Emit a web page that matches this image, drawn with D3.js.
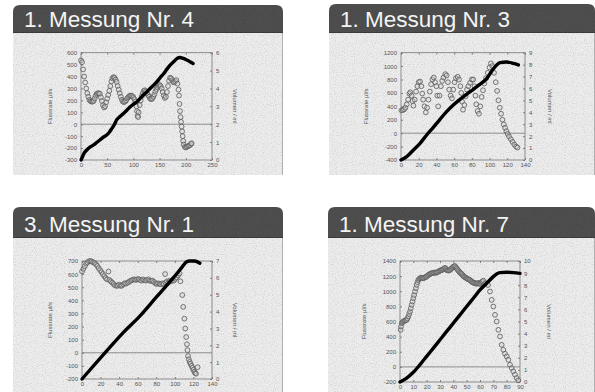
<!DOCTYPE html>
<html><head><meta charset="utf-8">
<script src="https://cdn.jsdelivr.net/npm/d3@7"></script>
<style>
html,body{margin:0;padding:0;background:#fff;}
svg{display:block;}
text{font-family:"Liberation Sans",Arial,sans-serif;}
</style></head>
<body>
<svg id="c" width="595" height="392"></svg>
<script>
// ---------- data ----------
const titles = ["1. Messung Nr. 4", "1. Messung Nr. 3", "3. Messung Nr. 1", "1. Messung Nr. 7"];
const flowLabel = "Flussrate µl/s";
const volLabel = "Volumen / ml";

// x tick values (time, s)
const xTicks1 = [0, 50, 100, 150, 200, 250];
const xTicks2 = [0, 20, 40, 60, 80, 100, 120, 140];
const xTicks3 = [0, 20, 40, 60, 80, 100, 120, 140];
const xTicks4 = [0, 10, 20, 30, 40, 50, 60, 70, 80, 90];
// left (flow) tick values
const yTicks1 = [-300, -200, -100, 0, 100, 200, 300, 400, 500, 600];
const yTicks2 = [-400, -200, 0, 200, 400, 600, 800, 1000, 1200];
const yTicks3 = [-200, -100, 0, 100, 200, 300, 400, 500, 600, 700];
const yTicks4 = [-200, 0, 200, 400, 600, 800, 1000, 1200, 1400];
// right (volume) tick values
const vTicks1 = [0, 1, 2, 3, 4, 5, 6];
const vTicks2 = [0, 1, 2, 3, 4, 5, 6, 7, 8, 9];
const vTicks3 = [0, 1, 2, 3, 4, 5, 6, 7];
const vTicks4 = [0, 1, 2, 3, 4, 5, 6, 7, 8, 9, 10];

// flow rate samples [time s, µl/s]
const flow1 = [[0,535],[2,520],[4,460],[6,400],[8,350],[10,300],[12,260],[14,230],[16,205],[18,195],[20,190],[22,190],[24,195],[26,215],[28,240],[30,255],[32,260],[34,260],[36,255],[38,225],[40,195],[42,160],[44,140],[46,150],[48,185],[50,215],[52,245],[54,280],[56,320],[58,360],[60,385],[62,395],[64,390],[66,375],[68,355],[70,320],[72,290],[74,260],[76,230],[78,205],[80,190],[82,185],[84,190],[86,200],[88,215],[90,225],[92,235],[94,240],[96,240],[98,235],[100,225],[102,210],[104,190],[106,150],[107,110],[108,70],[109,60],[110,100],[112,160],[114,200],[116,235],[118,260],[120,280],[122,285],[124,275],[126,260],[128,245],[130,230],[132,215],[134,210],[136,215],[138,230],[140,250],[142,275],[144,295],[146,310],[148,320],[150,330],[152,320],[154,300],[156,270],[158,240],[160,220],[162,230],[164,270],[166,320],[168,365],[170,390],[172,385],[174,370],[176,355],[178,350],[180,360],[182,370],[184,340],[186,290],[187,240],[188,170],[189,110],[190,60],[191,20],[192,-20],[193,-60],[194,-100],[195,-140],[196,-170],[198,-190],[200,-195],[202,-190],[204,-185],[206,-180],[208,-175],[210,-165],[211,-160]];
const flow2 = [[0.5,340],[2,345],[3.5,355],[5,380],[6.5,430],[8,500],[9.5,590],[10.5,610],[12,560],[13,480],[14,410],[15.5,500],[17,620],[18.5,700],[20,760],[21.5,770],[23,700],[24,590],[25,500],[26.5,400],[28,310],[29.5,380],[31,500],[32.5,620],[34,730],[35.5,800],[37,830],[38.5,760],[40,700],[41,560],[42,400],[43.5,560],[45,700],[46.5,780],[48,830],[50,880],[51.5,860],[53,760],[54.5,650],[56,560],[57.5,520],[59,650],[60.5,760],[62,820],[64,840],[65.5,800],[67,700],[68,600],[69,470],[70,350],[71.5,420],[73,550],[74.5,650],[76,700],[78,750],[80,800],[81.5,800],[83,700],[84,560],[85,430],[86.5,330],[88,290],[89.5,400],[91,540],[92.5,640],[94,740],[96,820],[98,900],[100,980],[101.5,1040],[103,1000],[105,900],[107,760],[108.5,630],[110,490],[111.5,380],[113,290],[114.5,200],[116,130],[117.5,80],[119,30],[120.5,-10],[122,-50],[124,-90],[126,-130],[128,-170],[130,-200],[131.5,-215]];
const flow3 = [[0,620],[1.5,640],[3,660],[4.5,680],[6,690],[7.5,698],[9,700],[10.5,697],[12,690],[13.5,685],[15,675],[16.5,662],[18,645],[19.5,630],[21,615],[22.5,600],[24,585],[25.5,570],[27,560],[28.5,620],[29.5,555],[31,545],[32.5,535],[34,525],[35.5,515],[37,510],[38.5,512],[40,520],[41.5,510],[43,512],[44.5,522],[46,530],[47.5,527],[49,535],[50.5,540],[52,548],[53.5,553],[55,558],[56.5,560],[58,555],[59.5,560],[61,563],[62.5,555],[64,550],[65.5,560],[67,555],[68.5,550],[70,555],[71.5,560],[73,550],[74.5,548],[76,550],[77.5,540],[79,530],[80.5,525],[82,530],[83.5,525],[85,522],[86.5,530],[88,525],[89.5,600],[90,535],[91.5,545],[93,535],[94.5,550],[96,545],[97.5,555],[99,550],[100.5,565],[102,575],[103.5,590],[105,605],[106,545],[108,440],[109,350],[110.3,260],[111.2,185],[112.2,120],[113,65],[113.6,20],[114.2,-25],[115,-50],[116,-70],[117,-85],[118,-100],[119,-115],[120,-130],[121,-145],[122,-155],[122.8,-160],[124.5,-110]];
const flow4 = [[0.5,490],[0.75,534],[1.25,578],[2,590],[2.5,600],[3.25,608],[3.75,613],[4.5,618],[5,622],[5.6,640],[6.25,666],[6.9,700],[7.5,732],[8.1,775],[8.75,820],[9.4,865],[10,908],[10.6,950],[11.25,996],[11.9,1040],[12.5,1084],[13.1,1120],[13.75,1149],[14.4,1162],[15,1171],[15.6,1176],[16.25,1180],[16.9,1175],[17.5,1171],[18.1,1178],[18.75,1185],[19.4,1190],[20,1193],[20.6,1205],[21.25,1215],[21.9,1222],[22.5,1229],[23.1,1233],[23.75,1237],[24.4,1242],[25,1246],[25.6,1246],[26.25,1246],[26.9,1246],[27.5,1246],[28.1,1252],[28.75,1259],[29.4,1266],[30,1273],[30.6,1277],[31.25,1281],[31.9,1285],[32.5,1290],[33.1,1300],[33.75,1310],[34.4,1295],[35,1281],[35.6,1277],[36.25,1273],[36.9,1277],[37.5,1281],[38.1,1292],[38.75,1303],[39.4,1314],[40,1325],[40.6,1330],[41.25,1334],[41.9,1318],[42.5,1303],[43.1,1288],[43.75,1273],[44.4,1260],[45,1246],[45.6,1238],[46.25,1229],[46.9,1215],[47.5,1202],[48.1,1193],[48.75,1185],[49.4,1178],[50,1171],[50.6,1165],[51.25,1158],[51.9,1153],[52.5,1149],[53.1,1138],[53.75,1127],[54.4,1120],[55,1114],[55.6,1110],[56.25,1105],[56.9,1102],[57.5,1100],[58.1,1105],[58.75,1110],[59.4,1102],[60,1095],[60.6,1108],[61.25,1120],[61.9,1130],[62.5,1140],[64,1105],[66,1083],[67.5,996],[68.75,886],[70,798],[71.25,688],[72.5,600],[73.75,490],[75,402],[76.25,292],[77.5,226],[78.75,174],[80,138],[81.25,94],[82.5,28],[83.75,-16],[85,-59],[86.25,-103],[87.5,-147],[88.75,-178]];

// volume samples [time s, ml]
const vol1 = [[0,0],[3,0.2],[6,0.38],[11,0.56],[17,0.72],[24,0.84],[30,0.98],[36,1.12],[42,1.26],[49,1.4],[54,1.55],[59,1.77],[64,2.0],[68,2.24],[74,2.42],[81,2.6],[88,2.8],[94,2.98],[100,3.12],[107,3.26],[113,3.45],[119,3.63],[126,3.82],[132,4.0],[139,4.2],[145,4.38],[151,4.6],[158,4.84],[164,5.08],[170,5.3],[177,5.5],[183,5.67],[189,5.73],[195,5.68],[202,5.59],[208,5.5],[214,5.4]];
const vol2 = [[0,0],[6.4,0.28],[14,0.84],[21.5,1.4],[29,2.1],[36.5,2.74],[44,3.41],[51.5,4.05],[59,4.61],[66.6,5.09],[74,5.51],[81.7,5.93],[89,6.34],[97,6.85],[102,7.41],[108,7.97],[112,8.16],[119,8.22],[127,8.1],[132.5,7.97]];
const vol3 = [[0,0],[23,1.44],[44.4,2.75],[62,3.71],[80,4.85],[98,5.98],[108,6.65],[112.4,6.94],[116,7.0],[121,7.0],[127,6.87]];
const vol4 = [[0,0],[5,0.33],[10,0.8],[15,1.43],[20,2.12],[25,2.8],[30,3.49],[35,4.18],[40,4.86],[45,5.55],[50,6.24],[55,6.92],[60,7.61],[65,8.16],[70,8.71],[72.5,8.93],[75,9.04],[80,9.07],[85,9.04],[90,8.98]];

// ---------- layout ----------
const svg = d3.select("#c");
const defs = svg.append("defs");
const flt = defs.append("filter").attr("id","noise").attr("x",0).attr("y",0).attr("width","100%").attr("height","100%");
flt.append("feTurbulence").attr("type","fractalNoise").attr("baseFrequency",0.9).attr("numOctaves",1).attr("seed",3).attr("result","t");
flt.append("feColorMatrix").attr("in","t").attr("type","matrix")
   .attr("values","0 0 0 0 0  0 0 0 0 0  0 0 0 0 0  0 0 0 -2.5 1.3").attr("result","m");
flt.append("feComposite").attr("in","m").attr("in2","SourceGraphic").attr("operator","in");

const panels = [
  {title:titles[0], px:13, pw:270, top:5, hb:33, bottom:175, plot:[81,212,52.7,160], xd:[0,250], yd:[-300,600], vd:[0,6], xt:xTicks1, yt:yTicks1, vt:vTicks1, flow:flow1, vol:vol1, lo:-29, ro:21},
  {title:titles[1], px:329, pw:266, top:4, hb:33, bottom:175, plot:[401,525,52.7,160], xd:[0,140], yd:[-400,1200], vd:[0,9], xt:xTicks2, yt:yTicks2, vt:vTicks2, flow:flow2, vol:vol2, lo:-33, ro:23},
  {title:titles[2], px:13, pw:270, top:207, hb:238, bottom:392, plot:[82,212,261,379], xd:[0,140], yd:[-200,700], vd:[0,7], xt:xTicks3, yt:yTicks3, vt:vTicks3, flow:flow3, vol:vol3, lo:-30, ro:21},
  {title:titles[3], px:328, pw:267, top:207, hb:238, bottom:392, plot:[400,520,261,382], xd:[0,90], yd:[-200,1400], vd:[0,10], xt:xTicks4, yt:yTicks4, vt:vTicks4, flow:flow4, vol:vol4, lo:-34, ro:27}
];

const fmt = d => String(d);

panels.forEach((p,i)=>{
  const g = svg.append("g");
  const r = 7;
  // content area
  g.append("rect").attr("x",p.px).attr("y",p.hb).attr("width",p.pw).attr("height",p.bottom-p.hb).attr("fill","#ececec");
  g.append("rect").attr("x",p.px).attr("y",p.hb).attr("width",p.pw).attr("height",p.bottom-p.hb).attr("fill","#a8a8a8").attr("filter","url(#noise)").attr("opacity",0.13);
  g.append("line").attr("x1",p.px+p.pw-0.5).attr("x2",p.px+p.pw-0.5).attr("y1",p.hb).attr("y2",p.bottom).attr("stroke","#b0b0b0");
  // header with rounded top corners
  const x0=p.px, x1=p.px+p.pw, y0=p.top, y1=p.hb;
  const hp = `M${x0},${y1} L${x0},${y0+r} Q${x0},${y0} ${x0+r},${y0} L${x1-r},${y0} Q${x1},${y0} ${x1},${y0+r} L${x1},${y1} Z`;
  g.append("path").attr("d",hp).attr("fill","#4e4e4e");
  g.append("path").attr("d",hp).attr("fill","#000").attr("filter","url(#noise)").attr("opacity",0.12);
  g.append("line").attr("x1",x0).attr("x2",x1).attr("y1",y1-0.5).attr("y2",y1-0.5).attr("stroke","#3a3a3a");
  g.append("text").attr("x",p.px+11).attr("y",p.hb-6).attr("fill","#f4f4f4")
    .attr("font-size",22.5).text(p.title);

  // scales
  const [L,R,T,B] = p.plot;
  const x = d3.scaleLinear().domain(p.xd).range([L,R]);
  const y = d3.scaleLinear().domain(p.yd).range([B,T]);
  const v = d3.scaleLinear().domain(p.vd).range([B,T]);

  // axes
  const styleAxis = sel => {
    sel.select(".domain").remove();
    sel.selectAll(".tick line").attr("stroke","#666").attr("stroke-width",0.8);
    sel.selectAll(".tick text").attr("fill","#555").attr("font-size",6).attr("font-family","Liberation Sans, Arial, sans-serif");
  };
  g.append("g").attr("transform",`translate(0,${B})`).call(d3.axisBottom(x).tickValues(p.xt).tickSize(-2).tickPadding(3).tickFormat(fmt)).call(styleAxis);
  g.append("g").attr("transform",`translate(0,${T})`).call(d3.axisTop(x).tickValues(p.xt).tickSize(-2).tickFormat("")).call(styleAxis);
  g.append("g").attr("transform",`translate(${L},0)`).call(d3.axisLeft(y).tickValues(p.yt).tickSize(-2).tickPadding(4).tickFormat(fmt)).call(styleAxis);
  g.append("g").attr("transform",`translate(${R},0)`).call(d3.axisRight(v).tickValues(p.vt).tickSize(-2).tickPadding(4).tickFormat(fmt)).call(styleAxis);

  // box
  g.append("rect").attr("x",L).attr("y",T).attr("width",R-L).attr("height",B-T).attr("fill","none").attr("stroke","#777").attr("stroke-width",0.8);
  // zero line
  g.append("line").attr("x1",L).attr("x2",R).attr("y1",y(0)).attr("y2",y(0)).attr("stroke","#777").attr("stroke-width",0.8);

  // axis titles
  g.append("text").attr("transform",`translate(${L+p.lo},${(T+B)/2}) rotate(-90)`).attr("text-anchor","middle")
    .attr("font-size",6).attr("fill","#555").text(flowLabel);
  g.append("text").attr("transform",`translate(${R+p.ro},${(T+B)/2}) rotate(90)`).attr("text-anchor","middle")
    .attr("font-size",6).attr("fill","#555").text(volLabel);

  // flow circles
  g.append("g").selectAll("circle").data(p.flow).join("circle")
    .attr("cx",d=>x(d[0])).attr("cy",d=>y(d[1])).attr("r",2.4)
    .attr("fill","#d8d8d8").attr("fill-opacity",0.35).attr("stroke","#606060").attr("stroke-width",0.85);

  // volume line
  g.append("path").datum(p.vol)
    .attr("d",d3.line().x(d=>x(d[0])).y(d=>v(d[1])).curve(d3.curveMonotoneX))
    .attr("fill","none").attr("stroke","#000").attr("stroke-width",3.4).attr("stroke-linecap","round");
});
</script>
</body></html>
